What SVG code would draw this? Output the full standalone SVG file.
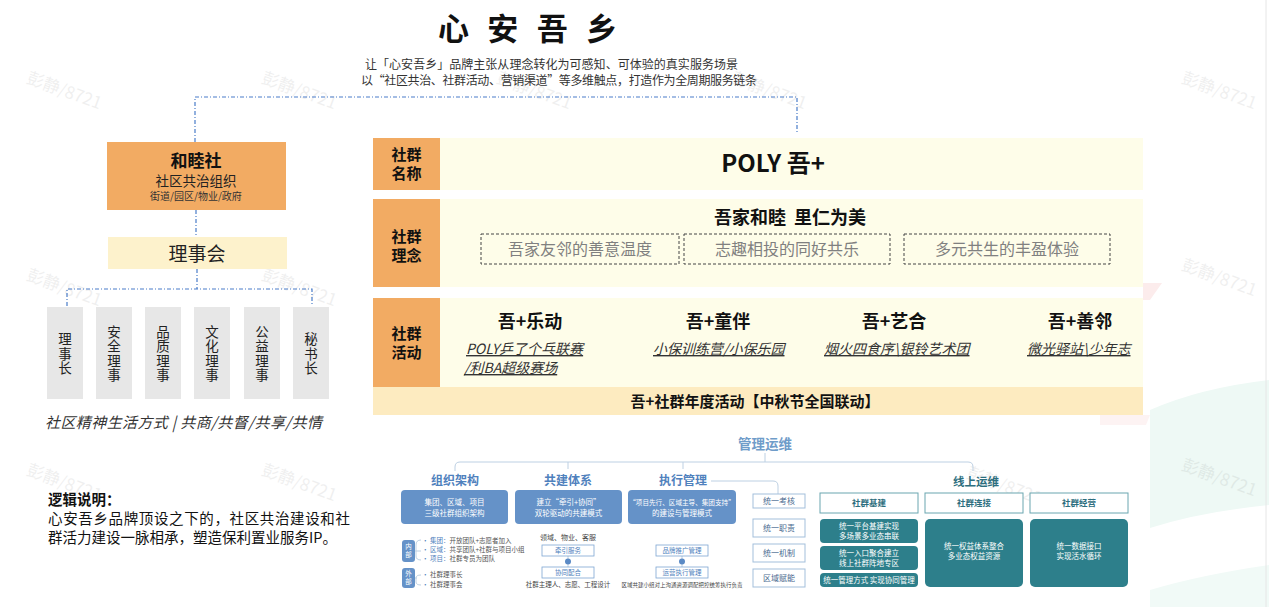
<svg xmlns="http://www.w3.org/2000/svg" width="1269" height="607" viewBox="0 0 1269 607">
<style>
text{font-family:"Noto Sans CJK SC","Liberation Sans",sans-serif;}
.wm{font-size:17px;fill:#000;opacity:0.06;}
.dd{fill:none;stroke:#4a7cc9;stroke-width:1.2;stroke-dasharray:4 2 1 2;}
.lab{fill:#f2ab63;}
.cell{fill:#fefde9;}
.labt{font-size:15px;font-weight:bold;fill:#111;text-anchor:middle;}
.gbox{fill:#e7e7e7;}
.gt{font-size:13.5px;fill:#222;text-anchor:middle;writing-mode:vertical-rl;letter-spacing:1px;}
.dash{fill:none;stroke:#444;stroke-width:1;stroke-dasharray:3 2;}
.idea{font-size:16px;fill:#808080;text-anchor:middle;}
.act{font-size:18px;font-weight:bold;fill:#111;text-anchor:middle;}
.sub{font-size:14px;font-style:italic;fill:#333;text-decoration:underline;}
.thin{fill:none;stroke:#bdd0e3;stroke-width:1;}
.bl{fill:#6592c8;}
.blt{font-size:7.5px;fill:#fff;text-anchor:middle;}
.h2{font-size:12px;font-weight:bold;fill:#4f81bd;text-anchor:middle;}
.sm{font-size:6.5px;fill:#555;}
.ob{fill:#fff;stroke:#7ea6d3;stroke-width:0.8;}
.obt{font-size:6.5px;fill:#4f81bd;text-anchor:middle;}
.ub{fill:#fff;stroke:#a3bfdb;stroke-width:1;}
.ubt{font-size:8px;fill:#4a6a8f;text-anchor:middle;}
.hb{fill:#fff;stroke:#6aa6b0;stroke-width:1;}
.hbt{font-size:8.5px;font-weight:bold;fill:#2d6e7e;text-anchor:middle;}
.tb{fill:#2d7f8b;}
.tbt{font-size:7.5px;fill:#fff;text-anchor:middle;}
.vt{font-size:6.5px;fill:#fff;text-anchor:middle;writing-mode:vertical-rl;}
</style>

<!-- background decoration -->
<g id="background">
  <rect width="1269" height="607" fill="#fff"/>
  <path d="M1150,410 Q1200,388 1269,380 L1269,505 Q1200,512 1150,528 Z" fill="#eef9f5"/>
  <path d="M1150,590 Q1200,575 1269,565 L1269,607 L1150,607 Z" fill="#f1faf7"/>
  <path d="M1143,283 L1162,283 L1150,300 L1143,300 Z" fill="#fcecec"/>
  <path d="M1100,415 L1150,415 L1146,425 L1100,425 Z" fill="#fdf3f3"/>
  <line x1="1266" y1="0" x2="1266" y2="607" stroke="#e6e6e6" stroke-width="1"/>
</g>

<!-- watermarks -->
<g id="watermarks">
  <text class="wm" x="25" y="95" transform="rotate(20 60 90)">彭静/8721</text>
  <text class="wm" x="260" y="95" transform="rotate(20 295 90)">彭静/8721</text>
  <text class="wm" x="495" y="95" transform="rotate(20 530 90)">彭静/8721</text>
  <text class="wm" x="730" y="95" transform="rotate(20 765 90)">彭静/8721</text>
  <text class="wm" x="1180" y="95" transform="rotate(20 1215 90)">彭静/8721</text>
  <text class="wm" x="25" y="292" transform="rotate(20 60 287)">彭静/8721</text>
  <text class="wm" x="260" y="292" transform="rotate(20 295 287)">彭静/8721</text>
  <text class="wm" x="1180" y="282" transform="rotate(20 1215 277)">彭静/8721</text>
  <text class="wm" x="25" y="487" transform="rotate(20 60 482)">彭静/8721</text>
  <text class="wm" x="260" y="487" transform="rotate(20 295 482)">彭静/8721</text>
  <text class="wm" x="965" y="490" transform="rotate(20 1000 485)">彭静/8721</text>
  <text class="wm" x="1180" y="482" transform="rotate(20 1215 477)">彭静/8721</text>
</g>

<!-- title -->
<g id="title">
  <text x="438" y="40" font-size="31" font-weight="bold" fill="#111" textLength="179" lengthAdjust="spacing">心 安 吾 乡</text>
  <text x="365" y="69" font-size="12" fill="#333" textLength="373" lengthAdjust="spacing">让「心安吾乡」品牌主张从理念转化为可感知、可体验的真实服务场景</text>
  <text x="361" y="84.5" font-size="12" fill="#333" textLength="396" lengthAdjust="spacing">以“社区共治、社群活动、营销渠道”等多维触点，打造作为全周期服务链条</text>
</g>

<!-- connectors -->
<g id="connectors">
  <path class="dd" d="M195,142 V97 H797 V133"/>
  <path class="dd" d="M196,210 V237"/>
  <path class="dd" d="M197,269 V289"/>
  <path class="dd" d="M67,306 V289 H312 V306"/>
</g>

<!-- left org -->
<g id="node-hemushe">
  <rect x="107" y="142" width="179" height="68" fill="#f2ab63"/>
  <text x="196" y="167" font-size="17" font-weight="bold" fill="#111" text-anchor="middle">和睦社</text>
  <text x="196" y="186" font-size="13.5" fill="#222" text-anchor="middle">社区共治组织</text>
  <text x="196" y="200" font-size="10" fill="#333" text-anchor="middle">街道/园区/物业/政府</text>
</g>
<g id="node-lishihui">
  <rect x="108" y="237" width="179" height="32" fill="#fdf2cc"/>
  <text x="197" y="261" font-size="19" fill="#222" text-anchor="middle">理事会</text>
</g>
<g id="node-lsz">
  <rect class="gbox" x="47" y="307" width="36" height="92"/>
  <text class="gt" x="65" y="354">理事长</text>
</g>
<g id="node-aq">
  <rect class="gbox" x="96" y="307" width="36" height="92"/>
  <text class="gt" x="114" y="354">安全理事</text>
</g>
<g id="node-pz">
  <rect class="gbox" x="145" y="307" width="36" height="92"/>
  <text class="gt" x="163" y="354">品质理事</text>
</g>
<g id="node-wh">
  <rect class="gbox" x="194" y="307" width="36" height="92"/>
  <text class="gt" x="212" y="354">文化理事</text>
</g>
<g id="node-gy">
  <rect class="gbox" x="244" y="307" width="36" height="92"/>
  <text class="gt" x="262" y="354">公益理事</text>
</g>
<g id="node-msz">
  <rect class="gbox" x="293" y="307" width="36" height="92"/>
  <text class="gt" x="311" y="354">秘书长</text>
</g>
<g id="caption-left">
  <text x="45" y="428" font-size="15" font-style="italic" fill="#333" textLength="277" lengthAdjust="spacing">社区精神生活方式 | 共商/共督/共享/共情</text>
</g>

<!-- right table -->
<g id="row-name">
  <rect class="lab" x="373" y="138" width="67" height="52"/>
  <rect class="cell" x="440" y="138" width="703" height="52"/>
  <text class="labt" x="406.5" y="160">社群</text>
  <text class="labt" x="406.5" y="179">名称</text>
  <text x="773" y="172" font-size="24" font-weight="bold" fill="#111" text-anchor="middle">POLY 吾+</text>
</g>
<g id="row-idea">
  <rect class="lab" x="373" y="199" width="67" height="88"/>
  <rect class="cell" x="440" y="199" width="703" height="88"/>
  <text class="labt" x="406.5" y="242">社群</text>
  <text class="labt" x="406.5" y="261">理念</text>
  <text x="790" y="224" font-size="18" font-weight="bold" fill="#111" text-anchor="middle" xml:space="preserve">吾家和睦  里仁为美</text>
  <rect class="dash" x="481" y="234" width="198" height="30"/>
  <rect class="dash" x="684" y="234" width="206" height="30"/>
  <rect class="dash" x="904" y="234" width="206" height="30"/>
  <text class="idea" x="580" y="255">吾家友邻的善意温度</text>
  <text class="idea" x="787" y="255">志趣相投的同好共乐</text>
  <text class="idea" x="1007" y="255">多元共生的丰盈体验</text>
</g>
<g id="row-activity">
  <rect class="lab" x="373" y="298" width="67" height="89"/>
  <rect class="cell" x="440" y="298" width="703" height="89"/>
  <text class="labt" x="406.5" y="338.5">社群</text>
  <text class="labt" x="406.5" y="358">活动</text>
  <text class="act" x="530" y="328">吾+乐动</text>
  <text class="act" x="718" y="328">吾+童伴</text>
  <text class="act" x="894" y="328">吾+艺合</text>
  <text class="act" x="1080" y="328">吾+善邻</text>
  <text class="sub" x="466" y="354">POLY乒了个乓联赛</text>
  <text class="sub" x="464" y="373">/利BA超级赛场</text>
  <text class="sub" x="653" y="354">小保训练营/小保乐园</text>
  <text class="sub" x="824" y="354">烟火四食序\银铃艺术团</text>
  <text class="sub" x="1027" y="354">微光驿站\少年志</text>
</g>
<g id="row-annual">
  <rect x="373" y="387" width="770" height="28" fill="#fdebc0"/>
  <text x="755" y="407" font-size="15" font-weight="bold" fill="#111" text-anchor="middle">吾+社群年度活动【中秋节全国联动】</text>
</g>

<!-- logic note -->
<g id="note">
  <text x="48" y="505" font-size="14.5" font-weight="bold" fill="#111">逻辑说明：</text>
  <text x="48" y="524" font-size="14.5" fill="#111" textLength="302" lengthAdjust="spacing">心安吾乡品牌顶设之下的，社区共治建设和社</text>
  <text x="48" y="543" font-size="14.5" fill="#111">群活力建设一脉相承，塑造保利置业服务IP。</text>
</g>

<!-- management diagram -->
<g id="mgmt-connectors">
  <path class="thin" d="M765,453 V462"/>
  <path class="thin" d="M455,471 V467 Q455,462 460,462 H968 Q973,462 973,467 V471"/>
  <path class="thin" d="M568,462 V469"/>
  <path class="thin" d="M683,462 V469"/>
  <path class="thin" d="M711,481 H773 Q778,481 778,486 V494"/>
  <path class="thin" d="M421,540 Q416,540 416,545 V556 Q416,560 421,560 M415,551 H421"/>
  <path class="thin" d="M421,575 Q416,575 416,578 V582 Q416,585 421,585 M415,578 H417"/>
  <path class="thin" d="M568,556 V567 M682,556 V567"/>
</g>
<g id="mgmt-title">
  <text x="765" y="449" font-size="13.5" font-weight="bold" fill="#6f9cc9" text-anchor="middle">管理运维</text>
</g>
<g id="mgmt-org">
  <text class="h2" x="455" y="485">组织架构</text>
  <rect class="bl" x="401" y="490" width="107" height="34" rx="4"/>
  <text class="blt" x="454.5" y="505">集团、区域、项目</text>
  <text class="blt" x="454.5" y="516">三级社群组织架构</text>
  <rect class="bl" x="402" y="540" width="13" height="22" rx="3"/>
  <text class="vt" x="408.5" y="551" letter-spacing="1">内部</text>
  <rect class="bl" x="402" y="568" width="13" height="20" rx="3"/>
  <text class="vt" x="408.5" y="578" letter-spacing="1">外部</text>
  <text class="sm" x="422" y="542.5"><tspan fill="#4f81bd">• 集团：</tspan>开放团队+志愿者加入</text>
  <text class="sm" x="422" y="551.5"><tspan fill="#4f81bd">• 区域：</tspan>共享团队+社群与项目小组</text>
  <text class="sm" x="422" y="560.5"><tspan fill="#4f81bd">• 项目：</tspan>社群专员为团队</text>
  <text class="sm" x="422" y="577"><tspan fill="#4f81bd">• </tspan>社群理事长</text>
  <text class="sm" x="422" y="587"><tspan fill="#4f81bd">• </tspan>社群理事会</text>
</g>
<g id="mgmt-cojoint">
  <text class="h2" x="568" y="485">共建体系</text>
  <rect class="bl" x="515" y="490" width="107" height="34" rx="4"/>
  <text class="blt" x="568.5" y="505">建立“牵引+协同”</text>
  <text class="blt" x="568.5" y="516">双轮驱动的共建模式</text>
  <text x="568" y="540" font-size="7" fill="#444" text-anchor="middle">领域、物业、客服</text>
  <rect class="ob" x="542" y="545" width="52" height="11"/>
  <text class="obt" x="568" y="553">牵引服务</text>
  <circle cx="568" cy="561.5" r="3" fill="#5b8ac5"/>
  <rect class="ob" x="542" y="567" width="52" height="11"/>
  <text class="obt" x="568" y="575">协同配合</text>
  <text x="568" y="587" font-size="6.5" fill="#444" text-anchor="middle">社群主理人、志愿、工程设计</text>
</g>
<g id="mgmt-exec">
  <text class="h2" x="683" y="485">执行管理</text>
  <rect class="bl" x="628" y="490" width="108" height="34" rx="4"/>
  <text x="682" y="505" font-size="6.6" fill="#fff" text-anchor="middle">“项目先行、区域主导、集团支持”</text>
  <text class="blt" x="682" y="516">的建设与管理模式</text>
  <rect class="ob" x="656" y="545" width="52" height="11"/>
  <text class="obt" x="682" y="553">品牌推广管理</text>
  <circle cx="682" cy="561.5" r="3" fill="#5b8ac5"/>
  <rect class="ob" x="656" y="567" width="52" height="11"/>
  <text class="obt" x="682" y="575">运营执行管理</text>
  <text x="682" y="587" font-size="5.5" fill="#444" text-anchor="middle">区域共建小组对上沟通资源调配把控统筹执行负责</text>
</g>
<g id="mgmt-unify">
  <rect class="ub" x="753" y="494" width="52" height="14"/>
  <text class="ubt" x="779" y="504">统一考核</text>
  <rect class="ub" x="753" y="519" width="52" height="18"/>
  <text class="ubt" x="779" y="531">统一职责</text>
  <rect class="ub" x="753" y="544" width="52" height="18"/>
  <text class="ubt" x="779" y="556">统一机制</text>
  <rect class="ub" x="753" y="569" width="52" height="18"/>
  <text class="ubt" x="779" y="581">区域赋能</text>
</g>
<g id="mgmt-online">
  <text x="976" y="486" font-size="11.5" font-weight="bold" fill="#2d6e7e" text-anchor="middle">线上运维</text>
  <rect class="hb" x="820" y="493" width="98" height="20"/>
  <text class="hbt" x="869" y="506">社群基建</text>
  <rect class="hb" x="925" y="493" width="98" height="20"/>
  <text class="hbt" x="974" y="506">社群连接</text>
  <rect class="hb" x="1030" y="493" width="98" height="20"/>
  <text class="hbt" x="1079" y="506">社群经营</text>
  <rect class="tb" x="820" y="519" width="98" height="24" rx="4"/>
  <text class="tbt" x="869" y="529">统一平台基建实现</text>
  <text class="tbt" x="869" y="539">多场景多业态串联</text>
  <rect class="tb" x="820" y="546" width="98" height="24" rx="4"/>
  <text class="tbt" x="869" y="556">统一入口聚合建立</text>
  <text class="tbt" x="869" y="566">线上社群阵地专区</text>
  <rect class="tb" x="820" y="573" width="98" height="14" rx="4"/>
  <text class="tbt" x="869" y="583">统一管理方式 实现协同管理</text>
  <rect class="tb" x="925" y="519" width="98" height="68" rx="5"/>
  <text class="tbt" x="974" y="549">统一权益体系整合</text>
  <text class="tbt" x="974" y="559">多业态权益资源</text>
  <rect class="tb" x="1030" y="519" width="98" height="68" rx="5"/>
  <text class="tbt" x="1079" y="549">统一数据接口</text>
  <text class="tbt" x="1079" y="559">实现活水循环</text>
</g>
</svg>
